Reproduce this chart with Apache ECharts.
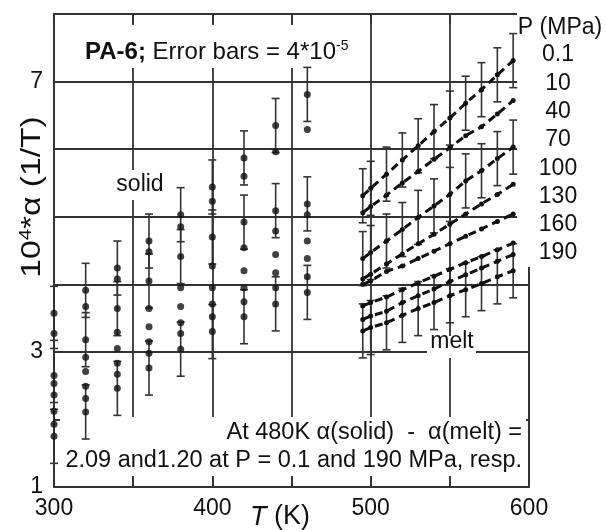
<!DOCTYPE html>
<html><head><meta charset="utf-8">
<script src="https://cdn.jsdelivr.net/npm/echarts@6/dist/echarts.min.js"></script>
<style>html,body{margin:0;padding:0;background:#fff}#c{width:607px;height:530px}</style>
</head><body><div id="c"></div>
<script>
// ---- data ----
const pressures = ['0.1', '10', '40', '70', '100', '130', '160', '190'];
const xTickLabels = [300, 400, 500, 600];
const yTickLabels = [1, 3, 7];
const errorHalf = 0.4;            // error bar = 4*10^-5 -> +/-0.4 in 10^4 units
const barPressures = ['0.1', '40', '190'];

const solidT = [300, 320, 340, 360, 380, 400, 420, 440, 460];
const solid_0_1 = [3.57, 3.91, 4.24, 4.64, 5.03, 5.44, 5.87, 6.35, 6.81];
const solid_10  = [3.27, 3.67, 4.08, 4.48, 4.85, 5.23, 5.60, 5.96, 6.29];
const solid_40  = [2.65, 3.18, 3.64, 4.05, 4.41, 4.70, 4.92, 5.09, 5.19];
const solid_70  = [2.53, 2.92, 3.29, 3.64, 3.95, 4.27, 4.54, 4.79, 5.03];
const solid_100 = [2.36, 2.71, 3.05, 3.37, 3.67, 3.95, 4.20, 4.44, 4.64];
const solid_130 = [2.12, 2.49, 2.83, 3.15, 3.43, 3.71, 3.95, 4.17, 4.38];
const solid_160 = [1.93, 2.31, 2.67, 2.98, 3.27, 3.52, 3.74, 3.95, 4.11];
const solid_190 = [1.75, 2.11, 2.46, 2.76, 3.04, 3.30, 3.52, 3.71, 3.88];

const meltT = [495, 500, 510, 520, 530, 540, 550, 560, 570, 580, 590];
const melt_0_1 = [5.31, 5.42, 5.63, 5.84, 6.05, 6.26, 6.46, 6.68, 6.88, 7.10, 7.31];
const melt_10  = [5.06, 5.15, 5.32, 5.50, 5.67, 5.85, 6.02, 6.20, 6.33, 6.52, 6.72];
const melt_40  = [4.38, 4.47, 4.64, 4.81, 4.99, 5.16, 5.33, 5.53, 5.68, 5.86, 6.03];
const melt_70  = [4.08, 4.15, 4.30, 4.45, 4.60, 4.74, 4.89, 5.04, 5.19, 5.33, 5.48];
const melt_100 = [4.00, 4.05, 4.19, 4.27, 4.38, 4.49, 4.60, 4.71, 4.82, 4.93, 5.04];
const melt_130 = [3.68, 3.73, 3.81, 3.92, 4.02, 4.12, 4.22, 4.32, 4.41, 4.51, 4.61];
const melt_160 = [3.48, 3.53, 3.60, 3.73, 3.83, 3.93, 4.04, 4.14, 4.24, 4.34, 4.44];
const melt_190 = [3.31, 3.36, 3.43, 3.54, 3.64, 3.73, 3.83, 3.92, 4.01, 4.11, 4.20];

const solidSets = [solid_0_1, solid_10, solid_40, solid_70, solid_100, solid_130, solid_160, solid_190];
const meltSets = [melt_0_1, melt_10, melt_40, melt_70, melt_100, melt_130, melt_160, melt_190];

// ---- chart ----
const FONT = 'Liberation Sans, Arial, sans-serif';
const INK = '#111';
const pairs = (xs, ys) => xs.map((x, i) => [x, ys[i]]);

function errRender(params, api) {
  const x = api.value(0), y = api.value(1);
  const top = api.coord([x, y + errorHalf]);
  const bot = api.coord([x, y - errorHalf]);
  const w = 4;
  const st = { stroke: '#333', lineWidth: 1.6 };
  return { type: 'group', children: [
    { type: 'line', shape: { x1: top[0], y1: top[1], x2: bot[0], y2: bot[1] }, style: st },
    { type: 'line', shape: { x1: top[0] - w, y1: top[1], x2: top[0] + w, y2: top[1] }, style: st },
    { type: 'line', shape: { x1: bot[0] - w, y1: bot[1], x2: bot[0] + w, y2: bot[1] }, style: st }
  ]};
}

const series = [];
pressures.forEach((p, i) => {
  if (barPressures.includes(p)) {
    series.push({ type: 'custom', name: 'solidErr' + p, renderItem: errRender, data: pairs(solidT, solidSets[i]), z: 3, silent: true });
    series.push({ type: 'custom', name: 'meltErr' + p, renderItem: errRender, data: pairs(meltT, meltSets[i]), z: 3, silent: true });
  }
});
pressures.forEach((p, i) => {
  series.push({ type: 'scatter', name: 'solid ' + p, data: pairs(solidT, solidSets[i]),
    symbol: 'circle', symbolSize: 7, itemStyle: { color: INK }, z: 4 });
  series.push({ type: 'line', name: 'melt ' + p, data: pairs(meltT, meltSets[i]),
    symbol: 'circle', symbolSize: 5, showSymbol: true, itemStyle: { color: INK },
    lineStyle: { color: '#111', width: 3, type: [8, 5] }, z: 4 });
});

const gridLine = { color: '#333', width: 1.8 };
const tickStyle = { color: '#333', width: 1.8 };

const graphics = [
  // white label boxes (interrupt grid lines)
  { type: 'rect', shape: { x: 70, y: 25, width: 296, height: 43 }, style: { fill: '#fff' }, z: 1 },
  { type: 'rect', shape: { x: 110, y: 170, width: 60, height: 30 }, style: { fill: '#fff' }, z: 1 },
  { type: 'rect', shape: { x: 427, y: 336, width: 49, height: 22 }, style: { fill: '#fff' }, z: 1 },
  { type: 'rect', shape: { x: 60, y: 417, width: 466, height: 59 }, style: { fill: '#fff' }, z: 1 },
  { type: 'rect', shape: { x: 517, y: 0, width: 90, height: 267 }, style: { fill: '#fff' }, z: 1 },
  // title
  { type: 'text', x: 85, y: 52, z: 5, style: {
      text: '{b|PA-6;}{n| Error bars = 4*10}{s|-5}', textVerticalAlign: 'middle', textAlign: 'left',
      rich: { b: { fontFamily: FONT, fontSize: 24, fontWeight: 'bold', fill: INK, color: INK },
              n: { fontFamily: FONT, fontSize: 24, fill: INK, color: INK },
              s: { fontFamily: FONT, fontSize: 14, fill: INK, color: INK, verticalAlign: 'top', padding: [0, 0, 12, 0] } } } },
  { type: 'text', x: 140, y: 185, z: 5, style: { text: 'solid', font: '23px ' + FONT, fill: INK, textAlign: 'center', textVerticalAlign: 'middle' } },
  { type: 'text', x: 452, y: 342, z: 5, style: { text: 'melt', font: '23px ' + FONT, fill: INK, textAlign: 'center', textVerticalAlign: 'middle' } },
  { type: 'text', x: 522, y: 433, z: 5, style: { text: 'At 480K \u03b1(solid)  -  \u03b1(melt) =', font: '23.5px ' + FONT, fill: INK, textAlign: 'right', textVerticalAlign: 'middle' } },
  { type: 'text', x: 522, y: 461, z: 5, style: { text: '2.09 and1.20 at P = 0.1 and 190 MPa, resp.', font: '23.5px ' + FONT, fill: INK, textAlign: 'right', textVerticalAlign: 'middle' } },
  // pressure legend
  { type: 'text', x: 560, y: 28, z: 5, style: { text: 'P (MPa)', font: '23px ' + FONT, fill: INK, textAlign: 'center', textVerticalAlign: 'middle' } },
  // axis names
  { type: 'text', x: 32, y: 197, rotation: Math.PI / 2, scaleX: 1.2, z: 5, style: {
      text: '{n|10}{s|4}{n|*\u03b1 (1/T)}', textAlign: 'center', textVerticalAlign: 'middle',
      rich: { n: { fontFamily: FONT, fontSize: 28, fill: INK, color: INK },
              s: { fontFamily: FONT, fontSize: 17, fill: INK, color: INK, verticalAlign: 'top' } } } },
  { type: 'text', x: 280, y: 517, z: 5, style: {
      text: '{i|T}{n| (K)}', textAlign: 'center', textVerticalAlign: 'middle',
      rich: { i: { fontFamily: FONT, fontSize: 27, fontStyle: 'italic', fill: INK, color: INK },
              n: { fontFamily: FONT, fontSize: 27, fill: INK, color: INK } } } }
];
pressures.forEach((p, i) => {
  graphics.push({ type: 'text', x: 558, y: 55 + i * 28.3, z: 5,
    style: { text: p, font: '23px ' + FONT, fill: INK, textAlign: 'center', textVerticalAlign: 'middle' } });
});

const chart = echarts.init(document.getElementById('c'), null, { renderer: 'canvas' });
chart.setOption({
  animation: false,
  backgroundColor: '#fff',
  grid: { left: 54, right: 78, top: 14, bottom: 43, show: true, borderColor: '#333', borderWidth: 1.8, backgroundColor: 'transparent' },
  xAxis: [
    { type: 'value', min: 300, max: 600, interval: 50, position: 'bottom',
      axisLine: { show: false },
      axisTick: { show: true, inside: true, length: 10, lineStyle: tickStyle },
      axisLabel: { fontSize: 23, fontFamily: FONT, color: INK, margin: 10,
        formatter: v => xTickLabels.includes(v) ? String(v) : '' },
      splitLine: { show: true, lineStyle: gridLine } },
    { type: 'value', min: 300, max: 600, interval: 50, position: 'top',
      axisLine: { show: false },
      axisTick: { show: true, inside: true, length: 10, lineStyle: tickStyle },
      axisLabel: { show: false }, splitLine: { show: false } }
  ],
  yAxis: { type: 'value', min: 1, max: 8, interval: 1,
    axisLine: { show: false }, axisTick: { show: false },
    axisLabel: { fontSize: 23, fontFamily: FONT, color: INK, margin: 11,
      formatter: v => yTickLabels.includes(v) ? String(v) : '' },
    splitLine: { show: true, lineStyle: gridLine } },
  graphic: { elements: graphics },
  series: series
});
</script></body></html>
